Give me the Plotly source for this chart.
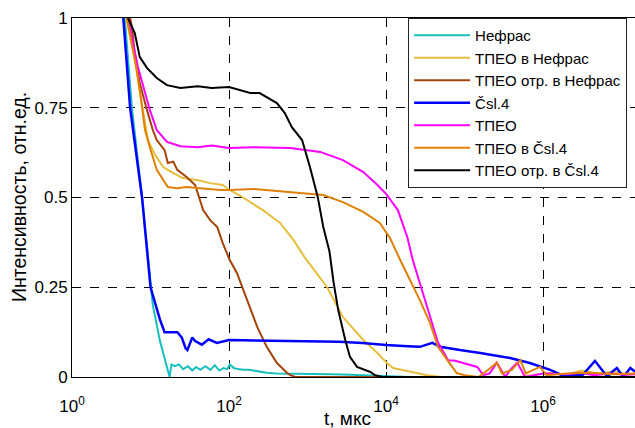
import plotly.graph_objects as go

# Decay curves: time t (µs) and normalised intensity
t_nefras = [4.7, 5.8, 7.8, 10, 10.7, 13.2, 15.1, 17.5, 18.5, 20.4, 23, 26, 30, 34, 38, 43, 50, 58, 66, 75, 85, 95, 102, 115, 130, 150, 180, 245, 300, 400, 600, 1000, 2000, 3500, 6000, 11000, 20000, 1.6e7]
v_nefras = [1.0, 0.75, 0.5, 0.25, 0.2, 0.10, 0.055, 0.0, 0.035, 0.03, 0.035, 0.022, 0.03, 0.018, 0.028, 0.02, 0.03, 0.02, 0.033, 0.018, 0.025, 0.022, 0.035, 0.025, 0.022, 0.02, 0.02, 0.015, 0.012, 0.01, 0.01, 0.008, 0.008, 0.006, 0.004, 0.003, 0.0, 0.0]

t_tpeo_nefras = [4.9, 6.3, 7.8, 9.3, 11.5, 14.5, 19.5, 25.7, 39, 57.5, 83.2, 102, 151, 186, 269, 447, 661, 933, 1778, 2818, 5129, 7762, 10233, 12300, 20417, 33113, 50000, 500000, 1.2e6, 2e6, 3e6, 5e6, 8e6, 1.2e7, 1.6e7]
v_tpeo_nefras = [1.0, 0.883, 0.758, 0.66, 0.618, 0.585, 0.568, 0.554, 0.549, 0.54, 0.535, 0.521, 0.50, 0.487, 0.465, 0.429, 0.382, 0.331, 0.25, 0.167, 0.103, 0.067, 0.039, 0.025, 0.014, 0.005, 0.0, 0.0, 0.012, 0.005, 0.018, 0.01, 0.015, 0.008, 0.01]

t_tpeo_otr_nefras = [5.5, 5.8, 6.3, 7.3, 9.0, 10.7, 12, 15.1, 16.6, 19.5, 21.9, 28.8, 37, 46.8, 57.5, 70.8, 83.2, 102, 126, 170, 229, 302, 407, 550, 603, 700, 1.6e7]
v_tpeo_otr_nefras = [1.0, 0.975, 0.90, 0.819, 0.744, 0.688, 0.66, 0.632, 0.596, 0.60, 0.577, 0.557, 0.535, 0.465, 0.437, 0.418, 0.373, 0.326, 0.29, 0.214, 0.139, 0.084, 0.039, 0.011, 0.005, 0.0, 0.0]

t_csl4 = [4.5, 5.5, 7.8, 10, 13.2, 15.1, 19, 22, 25, 28, 29.5, 34, 37, 45, 55, 70, 100, 200, 400, 1000, 2500, 5000, 10000, 19000, 26900, 38900, 48900, 87000, 158000, 380000, 676000, 1.23e6, 1.74e6, 3.16e6, 4.57e6, 6.6e6, 7.6e6, 8.7e6, 1.05e7, 1.29e7, 1.48e7]
v_csl4 = [1.0, 0.75, 0.5, 0.25, 0.16, 0.125, 0.125, 0.125, 0.11, 0.08, 0.075, 0.11, 0.1, 0.09, 0.105, 0.095, 0.103, 0.102, 0.1, 0.1, 0.098, 0.095, 0.089, 0.086, 0.084, 0.095, 0.084, 0.075, 0.067, 0.053, 0.039, 0.02, 0.005, 0.005, 0.045, 0.0, 0.015, 0.025, 0.0, 0.025, 0.015]

t_tpeo = [5.16, 6.9, 9.8, 12, 16.2, 24, 40, 60, 100, 200, 600, 1445, 2818, 5129, 7762, 10000, 14125, 18620, 21878, 28840, 36308, 45709, 61660, 75858, 144544, 173780, 209000, 257000, 331000, 380000, 467735, 588844, 1e6, 2e6, 3e6, 4.5e6, 7e6, 1.1e7, 1.6e7]
v_tpeo = [1.0, 0.864, 0.744, 0.688, 0.655, 0.643, 0.64, 0.645, 0.638, 0.64, 0.638, 0.627, 0.604, 0.571, 0.535, 0.51, 0.465, 0.39, 0.326, 0.242, 0.167, 0.097, 0.047, 0.045, 0.028, 0.005, 0.01, 0.04, 0.0, 0.02, 0.04, 0.0, 0.01, 0.008, 0.012, 0.005, 0.01, 0.006, 0.008]

t_tpeo_csl4 = [5.0, 5.16, 6.7, 7.8, 8.5, 9.8, 10.7, 12, 14.5, 16.6, 21.9, 28.8, 42.7, 77.6, 102, 204, 741, 1585, 2818, 5129, 8318, 11220, 15136, 20417, 26915, 36308, 45709, 60256, 79433, 100000, 150000, 200000, 257040, 300000, 400000, 512861, 600000, 912011, 1.1e6, 2e6, 4e6, 8e6, 1.6e7]
v_tpeo_csl4 = [1.0, 0.985, 0.855, 0.752, 0.688, 0.64, 0.613, 0.577, 0.549, 0.529, 0.526, 0.529, 0.526, 0.521, 0.521, 0.524, 0.513, 0.507, 0.487, 0.46, 0.429, 0.387, 0.326, 0.27, 0.214, 0.15, 0.084, 0.047, 0.011, 0.005, 0.0, 0.02, 0.04, 0.01, 0.02, 0.047, 0.01, 0.028, 0.005, 0.01, 0.012, 0.008, 0.01]

t_tpeo_otr_csl4 = [5.16, 6.3, 7.3, 9.0, 12, 16.2, 24, 40, 60, 100, 186, 245, 407, 513, 631, 851, 1072, 1349, 1585, 1900, 2150, 2455, 3020, 3467, 4266, 6310, 7244, 9000, 1.6e7]
v_tpeo_otr_csl4 = [1.0, 0.958, 0.891, 0.861, 0.833, 0.813, 0.805, 0.81, 0.805, 0.808, 0.791, 0.791, 0.763, 0.735, 0.696, 0.66, 0.585, 0.501, 0.418, 0.35, 0.262, 0.187, 0.103, 0.056, 0.028, 0.014, 0.005, 0.0, 0.0]

series = [
    ("Нефрас", t_nefras, v_nefras, "#17BFBF", 2),
    ("ТПЕО в Нефрас", t_tpeo_nefras, v_tpeo_nefras, "#E6BE3C", 2),
    ("ТПЕО отр. в Нефрас", t_tpeo_otr_nefras, v_tpeo_otr_nefras, "#A5420C", 2),
    ("Čsl.4", t_csl4, v_csl4, "#0000FF", 2.5),
    ("ТПЕО", t_tpeo, v_tpeo, "#FF00FF", 2),
    ("ТПЕО в Čsl.4", t_tpeo_csl4, v_tpeo_csl4, "#E08008", 2),
    ("ТПЕО отр. в Čsl.4", t_tpeo_otr_csl4, v_tpeo_otr_csl4, "#000000", 2),
]

x_tickvals = [1, 100, 1e4, 1e6]
x_ticktext = ["10<sup>0</sup>", "10<sup>2</sup>", "10<sup>4</sup>", "10<sup>6</sup>"]
y_tickvals = [0, 0.25, 0.5, 0.75, 1]
y_ticktext = ["0", "0.25", "0.5", "0.75", "1"]

FONT = "Liberation Sans, Arial, sans-serif"

fig = go.Figure()
for name, t, v, color, width in series:
    fig.add_trace(go.Scatter(x=t, y=v, mode="lines", name=name,
                             line=dict(color=color, width=width)))

fig.update_layout(
    width=635, height=428,
    margin=dict(l=72, r=0, t=18, b=51),
    paper_bgcolor="white", plot_bgcolor="white",
    font=dict(family=FONT, size=16, color="black"),
    showlegend=True,
    legend=dict(x=0.597, y=1.0, xanchor="left", yanchor="top",
                bgcolor="white", bordercolor="#222", borderwidth=1,
                itemwidth=56,
                font=dict(family=FONT, size=15, color="black")),
)

fig.update_xaxes(
    type="log", range=[0, 7.17],
    tickvals=x_tickvals, ticktext=x_ticktext,
    ticks="inside", ticklen=5, tickcolor="black",
    showline=True, linecolor="black", linewidth=1, mirror=True,
    showgrid=True, gridcolor="black", griddash="dash", gridwidth=1,
    zeroline=False, tickfont=dict(size=17), ticklabelstandoff=14,
)
fig.update_yaxes(
    range=[0, 1],
    tickvals=y_tickvals, ticktext=y_ticktext,
    ticks="inside", ticklen=5, tickcolor="black",
    showline=True, linecolor="black", linewidth=1,
    showgrid=True, gridcolor="black", griddash="dash", gridwidth=1,
    zeroline=False, tickfont=dict(size=17),
)

fig.add_annotation(text="t, мкс", xref="paper", yref="paper",
                   x=0.49, y=-0.116, xanchor="center", yanchor="middle",
                   showarrow=False, font=dict(size=19))
fig.add_annotation(text="Интенсивность, отн.ед.", xref="paper", yref="paper",
                   x=-0.095, y=0.5, xanchor="center", yanchor="middle",
                   textangle=-90, showarrow=False, font=dict(size=19.5))

fig.write_html("out.html")
